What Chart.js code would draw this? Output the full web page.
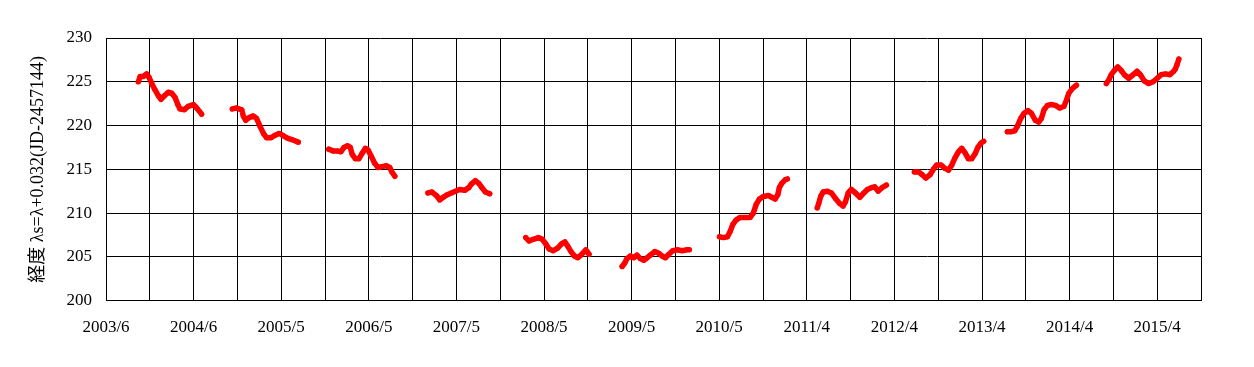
<!DOCTYPE html>
<html>
<head>
<meta charset="utf-8">
<script src="https://cdn.jsdelivr.net/npm/chart.js@4.4.0/dist/chart.umd.min.js"></script>
<style>
  body { margin: 0; background: #fff; }
</style>
</head>
<body>
<canvas id="myChart" width="1254" height="367"></canvas>
<script>
// x = days since the first axis tick (2003/6), y = longitude
const tickLabels = ["2003/6", "2004/6", "2005/5", "2006/5", "2007/5", "2008/5", "2009/5",
  "2010/5", "2011/4", "2012/4", "2013/4", "2014/4", "2015/4"];

const s2003 = [[133, 225.0], [140, 225.6], [153, 225.6], [167, 225.9], [177, 225.5], [188, 224.8],
  [201, 224.1], [215, 223.4], [226, 223.0], [240, 223.4], [256, 223.8], [270, 223.7], [284, 223.2],
  [295, 222.4], [304, 221.9], [322, 221.8], [338, 222.2], [359, 222.4], [373, 222.0], [393, 221.3]];
const s2004 = [[519, 221.9], [537, 222.0], [558, 221.8], [564, 221.1], [574, 220.6], [588, 220.9],
  [605, 221.1], [619, 220.8], [633, 219.9], [647, 219.1], [660, 218.6], [678, 218.6], [695, 218.9],
  [711, 219.1], [725, 218.9], [743, 218.6], [763, 218.4], [790, 218.1]];
const s2005 = [[915, 217.3], [933, 217.1], [951, 217.1], [965, 217.0], [978, 217.5], [992, 217.7],
  [1004, 217.5], [1012, 216.7], [1025, 216.2], [1039, 216.2], [1052, 216.8], [1066, 217.4],
  [1077, 217.2], [1090, 216.5], [1104, 215.7], [1118, 215.2], [1134, 215.3], [1152, 215.4],
  [1166, 215.2], [1175, 214.7], [1187, 214.2]];
const s2006 = [[1323, 212.3], [1340, 212.4], [1358, 212.0], [1372, 211.5], [1385, 211.8], [1403, 212.1],
  [1419, 212.3], [1436, 212.5], [1454, 212.7], [1474, 212.6], [1491, 212.9], [1501, 213.3],
  [1518, 213.7], [1532, 213.4], [1545, 212.9], [1559, 212.4], [1577, 212.2]];
const s2007 = [[1725, 207.2], [1739, 206.8], [1756, 207.0], [1777, 207.2], [1793, 207.0], [1807, 206.5],
  [1821, 205.9], [1838, 205.7], [1856, 206.0], [1873, 206.5], [1886, 206.7], [1898, 206.2],
  [1911, 205.6], [1925, 205.1], [1939, 204.9], [1952, 205.2], [1972, 205.8], [1985, 205.3]];
const s2008 = [[2121, 203.9], [2132, 204.3], [2141, 204.8], [2155, 205.1], [2169, 204.9], [2182, 205.2],
  [2196, 204.8], [2210, 204.6], [2224, 204.9], [2237, 205.2], [2255, 205.6], [2272, 205.4],
  [2285, 205.1], [2299, 204.9], [2313, 205.3], [2329, 205.7], [2347, 205.8], [2367, 205.7],
  [2388, 205.8], [2397, 205.8]];
const s2009 = [[2521, 207.3], [2537, 207.2], [2554, 207.3], [2565, 207.9], [2576, 208.7], [2589, 209.2],
  [2606, 209.5], [2626, 209.5], [2647, 209.5], [2660, 210.0], [2672, 211.0], [2685, 211.6],
  [2702, 211.9], [2722, 212.0], [2736, 211.8], [2750, 211.6], [2761, 212.1], [2767, 212.9],
  [2777, 213.4], [2791, 213.8], [2800, 213.9]];
const s2010 = [[2923, 210.6], [2929, 211.1], [2937, 211.9], [2947, 212.4], [2965, 212.5], [2981, 212.3],
  [2997, 211.7], [3015, 211.1], [3029, 210.8], [3039, 211.3], [3050, 212.3], [3063, 212.7],
  [3080, 212.3], [3098, 211.8], [3111, 212.2], [3129, 212.7], [3145, 212.9], [3159, 213.0],
  [3173, 212.5], [3189, 212.9], [3207, 213.2]];
const s2012 = [[3322, 214.7], [3339, 214.7], [3353, 214.4], [3369, 214.0], [3387, 214.4], [3400, 215.0],
  [3414, 215.5], [3432, 215.5], [3448, 215.1], [3462, 214.9], [3476, 215.5], [3489, 216.3],
  [3503, 217.0], [3517, 217.4], [3530, 216.9], [3544, 216.2], [3558, 216.2], [3572, 216.8],
  [3583, 217.5], [3596, 218.0], [3607, 218.2]];
const s2013 = [[3704, 219.3], [3721, 219.3], [3735, 219.4], [3745, 219.9], [3759, 220.8], [3773, 221.4],
  [3789, 221.7], [3803, 221.4], [3819, 220.6], [3833, 220.4], [3844, 220.8], [3855, 221.8],
  [3869, 222.3], [3885, 222.4], [3902, 222.3], [3920, 222.0], [3937, 222.2], [3947, 222.9],
  [3957, 223.7], [3974, 224.3], [3988, 224.6]];
const s2014 = [[4111, 224.8], [4121, 225.2], [4131, 225.8], [4144, 226.3], [4158, 226.7], [4172, 226.3],
  [4185, 225.8], [4203, 225.4], [4221, 225.8], [4237, 226.2], [4251, 225.8], [4267, 225.1],
  [4285, 224.8], [4303, 225.0], [4320, 225.4], [4336, 225.8], [4354, 225.9], [4372, 225.8],
  [4388, 226.2], [4395, 226.5], [4402, 227.0], [4409, 227.6]];

const seasons = [s2003, s2004, s2005, s2006, s2007, s2008, s2009, s2010, s2012, s2013, s2014];

const family = "'Liberation Serif', 'Noto Sans CJK JP', serif";
const tickFont = { family: family, size: 17 };

const canvas = document.getElementById("myChart");

const myChart = new Chart(canvas, {
  type: "scatter",
  data: {
    datasets: seasons.map((s) => ({
      data: s.map(([x, y]) => ({ x: x, y: y })),
      showLine: true,
      borderColor: "#ff0000",
      backgroundColor: "#ff0000",
      borderWidth: 5.5,
      borderCapStyle: "round",
      borderJoinStyle: "round",
      pointRadius: 2.5,
      pointBorderWidth: 0,
      tension: 0,
    })),
  },
  options: {
    responsive: false,
    animation: false,
    layout: { padding: { top: 38, right: 53, bottom: 12, left: 10 } },
    plugins: {
      legend: { display: false },
      tooltip: { enabled: false },
    },
    scales: {
      x: {
        type: "linear",
        min: 0,
        max: 4500,
        border: { color: "#000", width: 1 },
        grid: { color: "#000", drawTicks: false },
        ticks: {
          stepSize: 180,
          autoSkip: false,
          maxRotation: 0,
          padding: 17,
          color: "#000",
          font: tickFont,
          callback: (v) => (v % 360 === 0 ? tickLabels[v / 360] : ""),
        },
      },
      y: {
        min: 200,
        max: 230,
        afterFit: (scale) => { scale.width = 96; },
        border: { color: "#000", width: 1 },
        grid: { color: "#000", drawTicks: false },
        ticks: {
          stepSize: 5,
          padding: 14,
          color: "#000",
          font: tickFont,
        },
        title: {
          display: true,
          text: "経度 λs=λ+0.032(JD-2457144)",
          color: "#000",
          font: { family: family, size: 18 },
          padding: { top: 17, bottom: 0 },
        },
      },
    },
  },
});
</script>
</body>
</html>
